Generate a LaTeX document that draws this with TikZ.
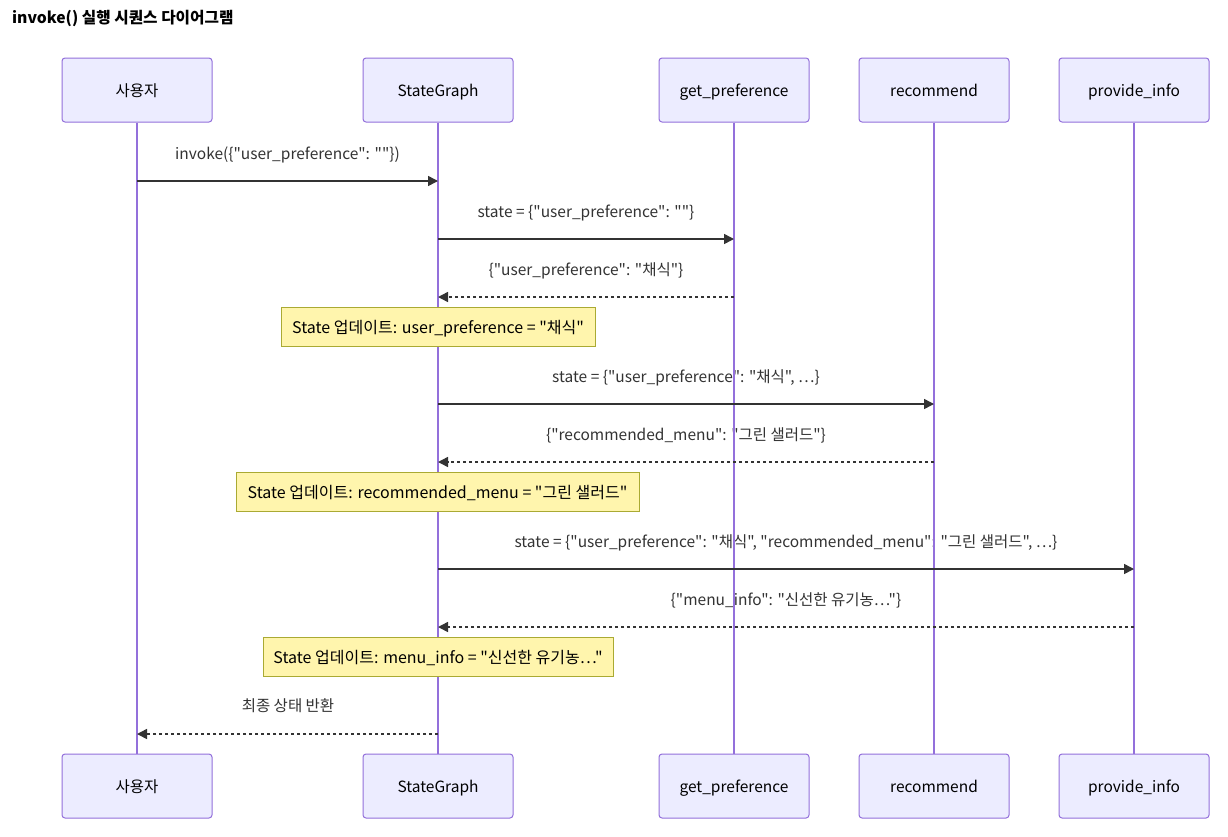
\documentclass[tikz,border=0pt]{standalone}
\usepackage{fontspec}
\setmainfont{Noto Sans CJK KR}
\newfontfamily\krfont{Noto Sans CJK KR}
\usetikzlibrary{arrows.meta}
\definecolor{actfill}{HTML}{ECECFF}
\definecolor{actdraw}{HTML}{9370DB}
\definecolor{notefill}{HTML}{FFF5AD}
\definecolor{notedraw}{HTML}{AAAA33}
\definecolor{ink}{HTML}{333333}
\newcommand{\dq}{"}
\begin{document}
\begin{tikzpicture}[x=1pt,y=-1pt,
  actor/.style={draw=actdraw, fill=actfill, line width=1pt, rounded corners=3pt,
    minimum width=150pt, minimum height=64pt, inner sep=0pt,
    text height=13.5pt, text depth=0pt,
    font=\krfont\fontsize{15.5}{18}\selectfont, text=black},
  lifeline/.style={draw=actdraw, line width=1.6pt},
  msgtext/.style={font=\krfont\fontsize{15.5}{18}\selectfont, text=ink, inner sep=0pt,
    text height=13.5pt, text depth=0pt},
  msg/.style={draw=ink, line width=1.5pt, -{Triangle[length=10pt,width=10pt]}},
  reply/.style={msg, dash pattern=on 3pt off 3pt},
  notebox/.style={draw=notedraw, fill=notefill, line width=1pt, minimum height=39pt,
    inner sep=0pt, text height=13.5pt, text depth=0pt,
    font=\krfont\fontsize{16}{19}\selectfont, text=black}]
\useasboundingbox (0,0) rectangle (1228,836);
\fill[white] (0,0) rectangle (1228,836);
\node[anchor=west, font=\krfont\fontsize{15.7}{18}\selectfont\bfseries, text=black, inner sep=0pt] (title) at (12,18) {invoke() 실행 시퀀스 다이어그램};
% actors top
\node[actor] (a1) at (137,90) {사용자};
\node[actor] (a2) at (438,90) {StateGraph};
\node[actor] (a3) at (734,90) {get\_preference};
\node[actor] (a4) at (934,90) {recommend};
\node[actor] (a5) at (1134,90) {provide\_info};
% actors bottom
\node[actor] (b1) at (137,786) {사용자};
\node[actor] (b2) at (438,786) {StateGraph};
\node[actor] (b3) at (734,786) {get\_preference};
\node[actor] (b4) at (934,786) {recommend};
\node[actor] (b5) at (1134,786) {provide\_info};
% message texts
\node[msgtext] (t1) at (287.5,153) {invoke(\{"user\_preference": ""\})};
\node[msgtext] (t2) at (586,211) {state = \{"user\_preference": ""\}};
\node[msgtext] (t3) at (586,269) {\{"user\_preference": "채식"\}};
\node[msgtext] (t5) at (686,376) {state = \{"user\_preference": "채식", …\}};
\node[msgtext] (t6) at (686,434) {\{"recommended\_menu": "그린 샐러드"\}};
\node[msgtext] (t8) at (786,541) {state = \{"user\_preference": "채식", "recommended\_menu": "그린 샐러드", …\}};
\node[msgtext] (t9) at (786,599) {\{"menu\_info": "신선한 유기농…"\}};
\node[msgtext] (t11) at (288,705) {최종 상태 반환};
% lifelines
\foreach \i in {1,...,5}{\draw[lifeline] (a\i.south) -- (b\i.north);}
% message endpoints
\coordinate (m1s) at (137,181); \coordinate (m1e) at (438,181);
\coordinate (m2s) at (438,239); \coordinate (m2e) at (734,239);
\coordinate (m3s) at (734,297); \coordinate (m3e) at (438,297);
\coordinate (m5s) at (438,404); \coordinate (m5e) at (934,404);
\coordinate (m6s) at (934,462); \coordinate (m6e) at (438,462);
\coordinate (m8s) at (438,569); \coordinate (m8e) at (1134,569);
\coordinate (m9s) at (1134,627); \coordinate (m9e) at (438,627);
\coordinate (m11s) at (438,734); \coordinate (m11e) at (137,734);
\draw[msg] (m1s) -- (m1e);
\draw[msg] (m2s) -- (m2e);
\draw[reply] (m3s) -- (m3e);
\draw[msg] (m5s) -- (m5e);
\draw[reply] (m6s) -- (m6e);
\draw[msg] (m8s) -- (m8e);
\draw[reply] (m9s) -- (m9e);
\draw[reply] (m11s) -- (m11e);
% notes
\node[notebox, minimum width=314pt] (n1) at (438,326.5) {State 업데이트: user\_preference = "채식"};
\node[notebox, minimum width=403pt] (n2) at (437.5,491.5) {State 업데이트: recommended\_menu = "그린 샐러드"};
\node[notebox, minimum width=350pt] (n3) at (438,656.5) {State 업데이트: menu\_info = "신선한 유기농…"};
\end{tikzpicture}
\end{document}
